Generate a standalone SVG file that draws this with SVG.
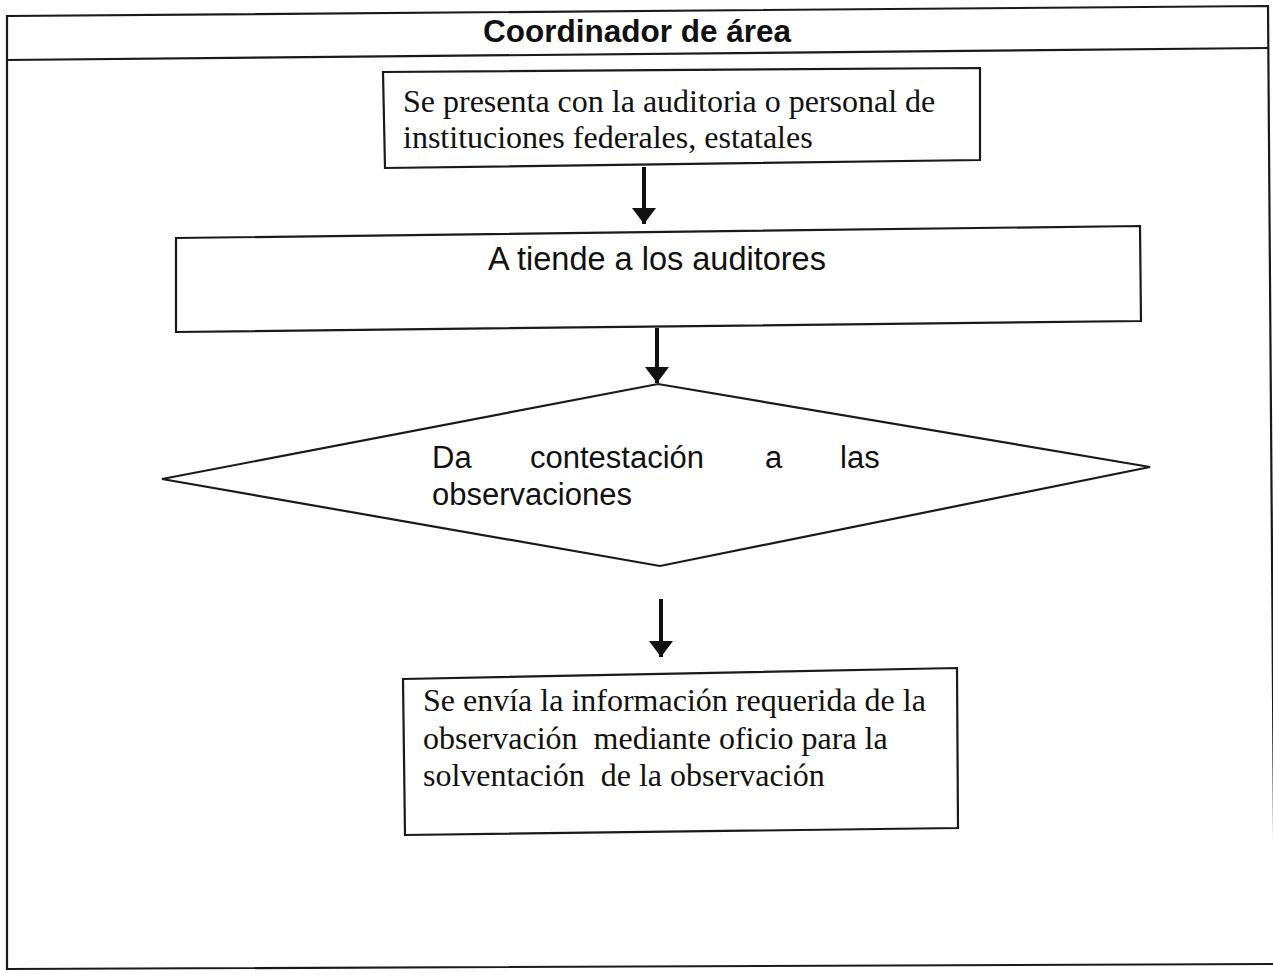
<svg xmlns="http://www.w3.org/2000/svg" width="1273" height="975" viewBox="0 0 1273 975">
  <style>
    .frame { fill: none; stroke: #1a1a1a; stroke-width: 2.2; }
    .shape { fill: #ffffff; stroke: #1a1a1a; stroke-width: 2.2; stroke-linejoin: miter; }
    .serif { font-family: "Liberation Serif", "Times New Roman", serif; font-size: 32px; fill: #111; white-space: pre; }
    .sans { font-family: "Liberation Sans", Arial, sans-serif; font-size: 31px; fill: #111; }
    .title { font-family: "Liberation Sans", Arial, sans-serif; font-size: 31.5px; font-weight: bold; fill: #111; }
    .conn { stroke: #111; stroke-width: 4; fill: none; }
  </style>
  <defs>
    <marker id="head" markerWidth="5" markerHeight="6" refX="4" refY="3" orient="auto" markerUnits="strokeWidth">
      <path d="M0,0 L4,3 L0,6 Z" fill="#111"/>
    </marker>
  </defs>

  <rect width="1273" height="975" fill="#ffffff"/>

  <!-- swimlane frame with header -->
  <g id="lane">
    <polygon class="frame" points="7,16 1268,6 1275,964 7,969"/>
    <line class="frame" x1="7" y1="60" x2="1268" y2="48"/>
    <text class="title" x="637" y="42" text-anchor="middle">Coordinador de área</text>
  </g>

  <!-- connectors -->
  <g id="connectors">
    <line class="conn" x1="644" y1="167" x2="644" y2="224" marker-end="url(#head)"/>
    <line class="conn" x1="657" y1="328" x2="657" y2="383" marker-end="url(#head)"/>
    <line class="conn" x1="661" y1="599" x2="661" y2="657" marker-end="url(#head)"/>
  </g>

  <g id="node-presenta">
    <polygon class="shape" points="383,72 980,68 980,160 385,168"/>
    <text class="serif" x="403" y="112">Se presenta con la auditoria o personal de</text>
    <text class="serif" x="403" y="148">instituciones federales, estatales</text>
  </g>

  <g id="node-atiende">
    <polygon class="shape" points="176,238 1140,226 1141,321 176,332"/>
    <text class="sans" x="657" y="270" text-anchor="middle" style="font-size:32.5px">A tiende a los auditores</text>
  </g>

  <g id="node-contestacion">
    <polygon class="shape" points="162,479 658,384 1150,467 660,566"/>
    <text class="sans" y="468"><tspan x="432">Da</tspan><tspan x="530">contestación</tspan><tspan x="765">a</tspan><tspan x="840">las</tspan></text>
    <text class="sans" x="432" y="505">observaciones</text>
  </g>

  <g id="node-envia">
    <polygon class="shape" points="403,679 957,668 958,828 405,835"/>
    <text class="serif" x="423" y="711" xml:space="preserve">Se envía la información requerida de la</text>
    <text class="serif" x="423" y="749" xml:space="preserve">observación  mediante oficio para la</text>
    <text class="serif" x="423" y="786" xml:space="preserve">solventación  de la observación</text>
  </g>
</svg>
